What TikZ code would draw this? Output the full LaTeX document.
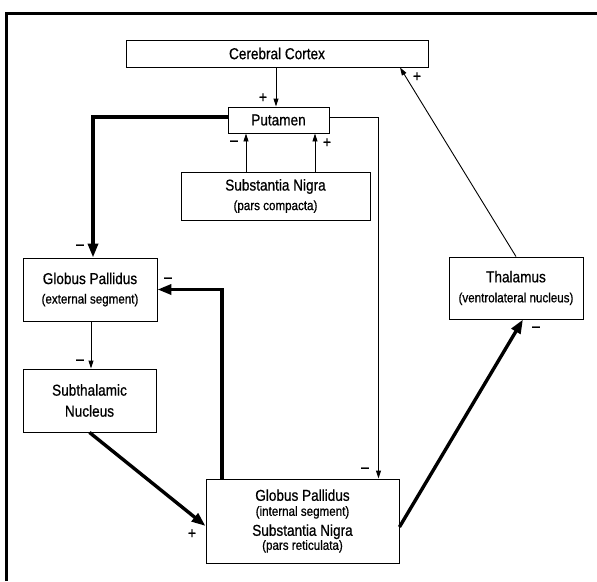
\documentclass[tikz,border=0pt]{standalone}
\usepackage{fontspec}
\setmainfont{Liberation Sans}[FakeStretch=0.86,FakeBold=0.7]
\usepackage{tikz}
\usetikzlibrary{arrows.meta,positioning,calc}
\newcommand{\bigtxt}{\fontsize{15.8}{16}\selectfont}
\newcommand{\subtxt}{\fontsize{13.5}{14}\selectfont}

\begin{document}
\begin{tikzpicture}[x=1pt,y=-1pt,
	region/.style={draw,line width=0.9pt,inner sep=0pt,align=center,font=\bigtxt},
	sign/.style={inner sep=0pt,font=\bigtxt},
	thinarr/.style={-{Triangle[length=8pt,width=5pt]},line width=0.9pt},
	thickarr/.style={-{Triangle[length=14pt,width=10pt]},line width=3.4pt},
	]
\useasboundingbox (0,0) rectangle (597,581);
\draw[line width=3pt] (6,581) -- (6,13) -- (597,13);

% boxes
\node[region,minimum width=302pt,minimum height=27pt](cortex) at (277,53.5){Cerebral Cortex};
\node[region,minimum width=101pt,minimum height=26pt](putamen) at (278.5,120){Putamen};
\node[region,minimum width=189pt,minimum height=48pt](sn) at (275.5,196){Substantia Nigra\\[3.5pt]\subtxt (pars compacta)};
\node[region,minimum width=134pt,minimum height=63pt](gpe) at (90,289.5){Globus Pallidus\\[3.5pt]\subtxt (external segment)};
\node[region,minimum width=133pt,minimum height=63pt](stn) at (89.5,400.5){Subthalamic\\[5pt]Nucleus};
\node[region,minimum width=134pt,minimum height=62pt](thal) at (516,288){Thalamus\\[4pt]\subtxt (ventrolateral nucleus)};
\node[region,minimum width=193pt,minimum height=84pt](gpi) at (302.5,521){Globus Pallidus\\[-1pt]\subtxt (internal segment)\\[4pt]\bigtxt Substantia Nigra\\[-2pt]\subtxt (pars reticulata)};

% signs
\node[sign](s1) at (263,98){+};
\node[sign](s2) at (234,143){--};
\node[sign](s3) at (327,143){+};
\node[sign](s4) at (417,77){+};
\node[sign](s5) at (80,247){--};
\node[sign](s6) at (168,280){--};
\node[sign](s7) at (80,362){--};
\node[sign](s8) at (365,470){--};
\node[sign](s9) at (192,534){+};
\node[sign](s10) at (536,329){--};

% connections
\draw[thinarr]([xshift=-1pt]cortex.south) -- ([xshift=-2.5pt]putamen.north);
\draw[thinarr]([xshift=-29.5pt]sn.north) -- ([xshift=-32.5pt]putamen.south);
\draw[thinarr]([xshift=39.5pt]sn.north) -- ([xshift=36.5pt]putamen.south);
\draw[thickarr]([yshift=3pt]putamen.west) -| ([xshift=3pt]gpe.north);
\draw[thinarr]([yshift=3pt]putamen.east) -| ([xshift=76pt]gpi.north);
\draw[thinarr]([xshift=1pt]gpe.south) -- ([xshift=1.5pt]stn.north);
\draw[thickarr](stn.south) -- ([yshift=-5pt]gpi.west);
\draw[thickarr]([xshift=-80.5pt]gpi.north) |- (gpe.east);
\draw[thickarr]([yshift=-6pt]gpi.east) -- ([xshift=7pt]thal.south);
\draw[thinarr](thal.north) -- ([xshift=123pt]cortex.south);
\end{tikzpicture}
\end{document}
